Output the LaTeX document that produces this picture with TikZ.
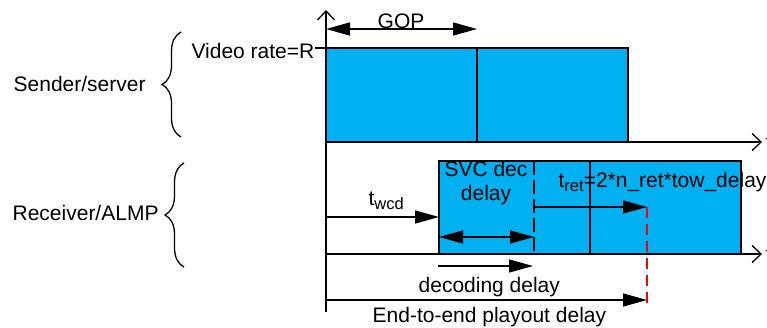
\documentclass[tikz,border=0pt]{standalone}
\usepackage{fontspec}
\setmainfont{Liberation Sans}
\usetikzlibrary{arrows.meta,decorations.pathreplacing}
\definecolor{boxblue}{HTML}{00B0F0}
\newcommand\mysub[1]{\raisebox{-4pt}{\fontsize{16.5}{16.5}\selectfont #1}}
\begin{document}
\begin{tikzpicture}[x=1pt,y=-1pt,line width=1.3pt,
  lbl/.style={inner sep=0pt,font=\fontsize{21}{24}\selectfont},
  axisarr/.style={-{Straight Barb[length=9pt,width=17pt,line width=1.3pt]}},
  sarr/.style={-{Triangle[length=24pt,width=13pt]}},
  dblarr/.style={{Triangle[length=24pt,width=13pt]}-{Triangle[length=24pt,width=13pt]}},
  blkdash/.style={dash pattern=on 14pt off 5pt},
  reddash/.style={red,line width=1.2pt,dash pattern=on 11pt off 6pt},
  bracestyle/.style={decorate,decoration={brace,amplitude=19pt},line width=1.3pt}]
\useasboundingbox (0,0) rectangle (767,327);
% coordinates
\coordinate (O) at (326,312);
\coordinate (Top) at (326,10);
\coordinate (S0) at (326,142);
\coordinate (S1) at (762,142);
\coordinate (R0) at (326,254);
\coordinate (R1) at (762,254);
\coordinate (tick) at (315,48);
\coordinate (tickE) at (326,48);
% sender box
\filldraw[fill=boxblue] (326,48) rectangle (628,142);
\draw (477,48) -- (477,142);
% receiver box
\filldraw[fill=boxblue] (439,161) rectangle (741,254);
\draw (590,161) -- (590,254);
\coordinate (dA) at (534,161);
\coordinate (dB) at (534,254);
\draw[blkdash] (dA) -- (dB);
% axes
\draw[axisarr] (O) -- (Top);
\draw[axisarr] (S0) -- (S1);
\draw[axisarr] (R0) -- (R1);
\draw (tick) -- (tickE);
\node[lbl,anchor=base west] (tS) at (765,149) {t};
\node[lbl,anchor=base west] (tR) at (765,261) {t};
% GOP
\coordinate (g0) at (326,29);
\coordinate (g1) at (477,29);
\draw[dblarr] (g0) -- (g1);
\node[lbl,anchor=base] (gop) at (401,28) {GOP};
% labels
\node[lbl,anchor=base east] (vr) at (315,58) {Video rate=R};
\node[lbl,anchor=base west] (snd) at (13,91) {Sender/server};
\node[lbl,anchor=base west] (rcv) at (12,220) {Receiver/ALMP};
\draw[bracestyle] (181,137) -- (181,32);
\draw[bracestyle] (184,267) -- (184,163);
% t_wcd
\coordinate (w0) at (326,217);
\coordinate (w1) at (439,217);
\draw[sarr] (w0) -- (w1);
\node[lbl,anchor=base west] (twcd) at (368,205) {t\mysub{wcd}};
% SVC dec delay
\node[lbl,anchor=base,align=center] (svc) at (486,200) {SVC dec\\delay};
\coordinate (v0) at (439,237);
\coordinate (v1) at (534,237);
\draw[dblarr] (v0) -- (v1);
% t_ret
\coordinate (r0) at (534,207);
\coordinate (r1) at (647,207);
\draw[sarr] (r0) -- (r1);
\node[lbl,anchor=base west] (tret) at (558,187) {t\mysub{ret}=2*n\_ret*tow\_delay};
\coordinate (rd) at (647,307);
\draw[reddash] (r1) -- (rd);
% decoding delay
\coordinate (c0) at (438,266);
\coordinate (c1) at (533,266);
\draw[sarr] (c0) -- (c1);
\node[lbl,anchor=base west] (dec) at (418,292) {decoding delay};
% end-to-end
\coordinate (e0) at (326,300);
\coordinate (e1) at (647,300);
\draw[sarr] (e0) -- (e1);
\node[lbl,anchor=base west] (e2e) at (372,322) {End-to-end playout delay};
\end{tikzpicture}
\end{document}
